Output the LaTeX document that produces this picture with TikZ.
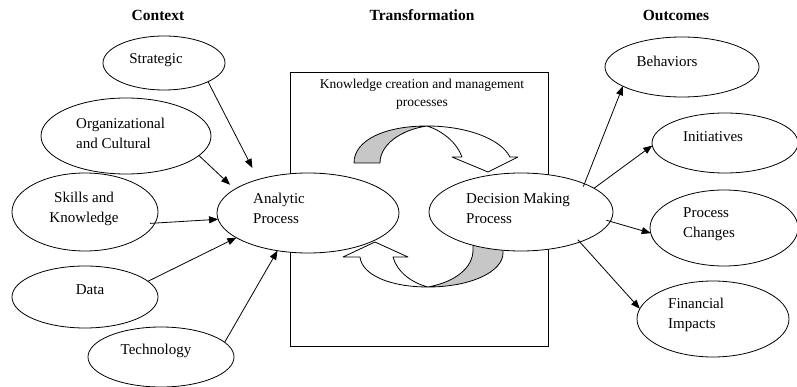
\documentclass[tikz,border=0pt]{standalone}
\usepackage{fontspec}
\setmainfont{Liberation Serif}
\usetikzlibrary{shapes.geometric,arrows.meta}
\begin{document}
\begin{tikzpicture}[x=1pt,y=-1pt,
  oval/.style={ellipse,draw,fill=white,line width=0.8pt,inner sep=0pt,outer sep=0pt},
  lbl/.style={font=\fontsize{15}{20}\selectfont,inner sep=0pt,align=center},
  lbll/.style={lbl,align=left,anchor=west},
  head/.style={font=\fontsize{15.5}{18}\selectfont\bfseries,inner sep=0pt},
  link/.style={line width=0.8pt,-{Triangle[length=9pt,width=7pt]}},
  ribbon/.style={draw,line width=0.8pt,line join=round}
]
\useasboundingbox (0,0) rectangle (797,387);

% column headings
\node[head] (hctx) at (158,15) {Context};
\node[head] (htrf) at (422,15) {Transformation};
\node[head] (hout) at (676,15) {Outcomes};

% transformation frame
\draw[line width=0.8pt] (290,72) rectangle (548,346);
\node[font=\fontsize{13.5}{18}\selectfont,inner sep=0pt,align=center] (kcm) at (422,94)
  {Knowledge creation and management\\processes};

% upper twisted arrow: shaded underside, then white front with head
\path[ribbon,fill=black!22] (354,163) .. controls (354,140) and (385,126) .. (427,126)
  .. controls (400,130) and (380,145) .. (380,163) -- cycle;
\path[ribbon,fill=white] (427,126) .. controls (465,126) and (500,138) .. (510,157)
  -- (518,157) -- (488,172) -- (452,157) -- (462,157)
  .. controls (457,143) and (443,131) .. (427,126) -- cycle;

% lower twisted arrow
\path[ribbon,fill=black!22] (503,235) -- (503,253) .. controls (503,272) and (470,287) .. (428,287)
  .. controls (455,282) and (473,268) .. (473,250) -- (473,235) -- cycle;
\path[ribbon,fill=white] (428,287) .. controls (390,287) and (362,275) .. (360,257)
  -- (343,257) -- (375,242) -- (408,257) -- (393,257)
  .. controls (397,272) and (412,283) .. (428,287) -- cycle;

% context ovals
\node[oval,minimum width=122pt,minimum height=54pt] (str) at (164,63) {};
\node[oval,minimum width=170pt,minimum height=76pt] (org) at (126,136) {};
\node[oval,minimum width=146pt,minimum height=78pt] (ski) at (85,212) {};
\node[oval,minimum width=146pt,minimum height=62pt] (dat) at (85,297) {};
\node[oval,minimum width=146pt,minimum height=60pt] (tec) at (161,357) {};

% process ovals
\node[oval,minimum width=182pt,minimum height=80pt] (ana) at (308,213) {};
\node[oval,minimum width=184pt,minimum height=78pt] (dec) at (521,212) {};

% outcome ovals
\node[oval,minimum width=154pt,minimum height=60pt] (beh) at (682,67) {};
\node[oval,minimum width=146pt,minimum height=60pt] (ini) at (725,143) {};
\node[oval,minimum width=148pt,minimum height=76pt] (pro) at (724,228) {};
\node[oval,minimum width=152pt,minimum height=76pt] (fin) at (713,319) {};

% labels
\node[lbl] (tstr) at (156,60) {Strategic};
\node[lbll] (torg) at (76,133) {Organizational\\and Cultural};
\node[lbl] (tski) at (84,209) {Skills and\\Knowledge};
\node[lbl] (tdat) at (90,290) {Data};
\node[lbl] (ttec) at (156,351) {Technology};
\node[lbll] (tana) at (253,208) {Analytic\\Process};
\node[lbll] (tdec) at (466,208) {Decision Making\\Process};
\node[lbl] (tbeh) at (667,61) {Behaviors};
\node[lbl] (tini) at (713,137) {Initiatives};
\node[lbll] (tpro) at (683,224) {Process\\Changes};
\node[lbll] (tfin) at (668,315) {Financial\\Impacts};

% connectors into the analytic process
\draw[link,shorten >=13pt] (str.-23) -- (ana.146);
\draw[link,shorten >=6.5pt] (org.-15) -- (ana.162);
\draw[link,shorten <=-5pt] (ski.-9) -- (ana.-176);
\draw[link] (dat.14) -- (ana.-161);
\draw[link] (tec.13) -- (ana.-129);

% connectors out of the decision making process
\draw[link,shorten <=-3pt] (dec.24) -- (beh.-162);
\draw[link] (dec.18) -- (ini.-178);
\draw[link,shorten <=-4pt] (dec.-6) -- (pro.-176);
\draw[link,shorten <=-3pt] (dec.-27) -- (fin.172);
\end{tikzpicture}
\end{document}
